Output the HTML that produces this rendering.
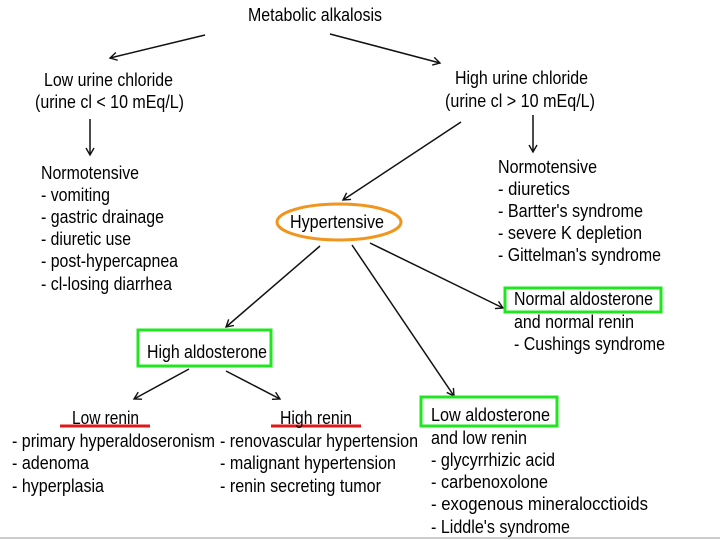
<!DOCTYPE html>
<html><head><meta charset="utf-8"><style>
html,body{margin:0;padding:0;background:#fff;width:720px;height:540px;overflow:hidden}
svg text{font-family:"Liberation Sans",sans-serif;font-size:18px;fill:#000}
</style></head><body>
<svg width="720" height="540" viewBox="0 0 720 540" xmlns="http://www.w3.org/2000/svg">
<defs>
<marker id="a" markerWidth="10" markerHeight="10" refX="8" refY="5" orient="auto" markerUnits="userSpaceOnUse">
<path d="M1,1 L8,5 L1,9" fill="none" stroke="#111" stroke-width="1.4"/>
</marker>
</defs>
<g stroke="#111" stroke-width="1.5" fill="none" marker-end="url(#a)">
<line x1="205" y1="35" x2="110" y2="58"/>
<line x1="330" y1="34" x2="440" y2="63"/>
<line x1="90" y1="119" x2="90" y2="155"/>
<line x1="533" y1="115" x2="533" y2="152"/>
<line x1="461" y1="122" x2="343" y2="200"/>
<line x1="320" y1="246" x2="226" y2="327"/>
<line x1="352" y1="245" x2="454" y2="396"/>
<line x1="370" y1="243" x2="503" y2="308"/>
<line x1="189" y1="369" x2="134" y2="399"/>
<line x1="226" y1="371" x2="280" y2="399"/>
</g>
<ellipse cx="339" cy="222" rx="62" ry="18" fill="none" stroke="#f0961e" stroke-width="3"/>
<rect x="138" y="330" width="133" height="36" fill="none" stroke="#22e522" stroke-width="3"/>
<rect x="421" y="397" width="136" height="29" fill="none" stroke="#22e522" stroke-width="3"/>
<rect x="505" y="288" width="156" height="24" fill="none" stroke="#22e522" stroke-width="3"/>
<line x1="60" y1="426" x2="150" y2="426" stroke="#e01818" stroke-width="3"/>
<line x1="271" y1="426" x2="361" y2="426" stroke="#e01818" stroke-width="3"/>
<line x1="0" y1="538" x2="720" y2="538" stroke="#ccc" stroke-width="2"/>
<g>
<text x="248" y="21" textLength="134" lengthAdjust="spacingAndGlyphs">Metabolic alkalosis</text>
<text x="44" y="86" textLength="129" lengthAdjust="spacingAndGlyphs">Low urine chloride</text>
<text x="35" y="108" textLength="149" lengthAdjust="spacingAndGlyphs">(urine cl &lt; 10 mEq/L)</text>
<text x="455" y="84" textLength="133" lengthAdjust="spacingAndGlyphs">High urine chloride</text>
<text x="445" y="107" textLength="150" lengthAdjust="spacingAndGlyphs">(urine cl &gt; 10 mEq/L)</text>

<text x="41" y="179" textLength="98" lengthAdjust="spacingAndGlyphs">Normotensive</text>
<text x="41" y="201" textLength="69" lengthAdjust="spacingAndGlyphs">- vomiting</text>
<text x="41" y="223" textLength="123" lengthAdjust="spacingAndGlyphs">- gastric drainage</text>
<text x="41" y="245" textLength="90" lengthAdjust="spacingAndGlyphs">- diuretic use</text>
<text x="41" y="267" textLength="137" lengthAdjust="spacingAndGlyphs">- post-hypercapnea</text>
<text x="41" y="290" textLength="131" lengthAdjust="spacingAndGlyphs">- cl-losing diarrhea</text>

<text x="498" y="173" textLength="99" lengthAdjust="spacingAndGlyphs">Normotensive</text>
<text x="498" y="195" textLength="72" lengthAdjust="spacingAndGlyphs">- diuretics</text>
<text x="498" y="217" textLength="145" lengthAdjust="spacingAndGlyphs">- Bartter's syndrome</text>
<text x="498" y="239" textLength="144" lengthAdjust="spacingAndGlyphs">- severe K depletion</text>
<text x="498" y="261" textLength="163" lengthAdjust="spacingAndGlyphs">- Gittelman's syndrome</text>

<text x="290" y="228" textLength="94" lengthAdjust="spacingAndGlyphs">Hypertensive</text>

<text x="514" y="305" textLength="139" lengthAdjust="spacingAndGlyphs">Normal aldosterone</text>
<text x="514" y="328" textLength="120" lengthAdjust="spacingAndGlyphs">and normal renin</text>
<text x="514" y="350" textLength="151" lengthAdjust="spacingAndGlyphs">- Cushings syndrome</text>

<text x="147" y="358" textLength="120" lengthAdjust="spacingAndGlyphs">High aldosterone</text>

<text x="72" y="424" textLength="67" lengthAdjust="spacingAndGlyphs">Low renin</text>
<text x="280" y="424" textLength="72" lengthAdjust="spacingAndGlyphs">High renin</text>

<text x="12" y="447" textLength="203" lengthAdjust="spacingAndGlyphs">- primary hyperaldoseronism</text>
<text x="12" y="469" textLength="77" lengthAdjust="spacingAndGlyphs">- adenoma</text>
<text x="12" y="492" textLength="92" lengthAdjust="spacingAndGlyphs">- hyperplasia</text>

<text x="220" y="447" textLength="198" lengthAdjust="spacingAndGlyphs">- renovascular hypertension</text>
<text x="220" y="469" textLength="176" lengthAdjust="spacingAndGlyphs">- malignant hypertension</text>
<text x="220" y="492" textLength="161" lengthAdjust="spacingAndGlyphs">- renin secreting tumor</text>

<text x="431" y="421" textLength="119" lengthAdjust="spacingAndGlyphs">Low aldosterone</text>
<text x="431" y="444" textLength="96" lengthAdjust="spacingAndGlyphs">and low renin</text>
<text x="431" y="466" textLength="124" lengthAdjust="spacingAndGlyphs">- glycyrrhizic acid</text>
<text x="431" y="488" textLength="117" lengthAdjust="spacingAndGlyphs">- carbenoxolone</text>
<text x="431" y="510" textLength="217" lengthAdjust="spacingAndGlyphs">- exogenous mineralocctioids</text>
<text x="431" y="533" textLength="139" lengthAdjust="spacingAndGlyphs">- Liddle's syndrome</text>
</g>
</svg>
</body></html>
